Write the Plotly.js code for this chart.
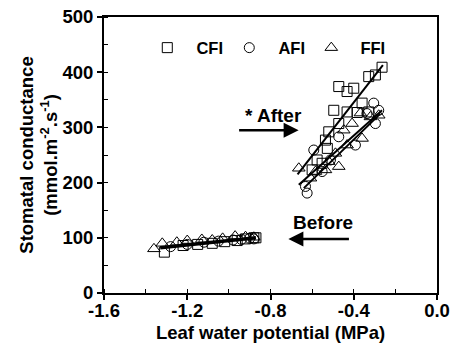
<!DOCTYPE html>
<html>
<head>
<meta charset="utf-8">
<script src="https://cdn.plot.ly/plotly-3.0.1.min.js"></script>
<style>html,body{margin:0;padding:0;background:#fff;}#chart{width:450px;height:349px;}</style>
</head>
<body>
<div id="chart"></div>
<script>
// Before irrigation (leaf water potential MPa, stomatal conductance)
const cfiBeforeX = [-1.31, -1.22, -1.15, -1.08, -1.02, -0.96, -0.92, -0.88, -0.87];
const cfiBeforeY = [74, 86, 88, 90, 93, 95, 98, 100, 100];
const afiBeforeX = [-1.28, -1.20, -1.12, -1.05, -0.98, -0.94, -0.90, -0.88];
const afiBeforeY = [84, 88, 92, 94, 96, 97, 99, 98];
const ffiBeforeX = [-1.36, -1.32, -1.25, -1.20, -1.13, -1.08, -1.03, -0.97, -0.92, -0.88];
const ffiBeforeY = [80, 90, 92, 95, 97, 96, 99, 103, 102, 101];

// After irrigation
const cfiAfterX = [-0.264, -0.296, -0.328, -0.472, -0.432, -0.40, -0.496, -0.432, -0.383, -0.36, -0.472, -0.52, -0.536, -0.527, -0.576, -0.60, -0.552, -0.328];
const cfiAfterY = [409, 395, 392, 374, 365, 371, 331, 328, 327, 344, 307, 292, 277, 262, 241, 223, 235, 328];
const afiAfterX = [-0.304, -0.28, -0.296, -0.336, -0.472, -0.392, -0.592, -0.512, -0.552, -0.632, -0.624];
const afiAfterY = [344, 331, 307, 325, 283, 268, 259, 241, 220, 193, 181];
const ffiAfterX = [-0.28, -0.32, -0.368, -0.408, -0.448, -0.36, -0.432, -0.488, -0.472, -0.536, -0.584, -0.664, -0.608, -0.52];
const ffiAfterY = [322, 319, 326, 307, 295, 280, 268, 253, 229, 223, 220, 226, 208, 238];

// Regression line end points
const fitBeforeX = [-1.33, -0.87];
const fitBeforeY = [82, 100];
const fitCfiAfterX = [-0.67, -0.26];
const fitCfiAfterY = [215, 413];
const fitAfiAfterX = [-0.64, -0.272];
const fitAfiAfterY = [190, 325];
const fitFfiAfterX = [-0.664, -0.264];
const fitFfiAfterY = [196, 331];

const seriesNames = ['CFI', 'AFI', 'FFI'];
const xTicks = [-1.6, -1.2, -0.8, -0.4, 0.0];
const xTickText = ['-1.6', '-1.2', '-0.8', '-0.4', '0.0'];
const yTicks = [0, 100, 200, 300, 400, 500];

const FONT = 'Liberation Sans, Arial, Helvetica, sans-serif';
const FS = 18.5;

function pts(name, xs, ys, symbol, size) {
  return {
    type: 'scatter', mode: 'markers', name: '<b>\u00a0\u00a0' + name + '</b>',
    x: xs, y: ys,
    marker: {symbol: symbol, size: size, color: 'black', line: {color: 'black', width: 1}},
    showlegend: true, cliponaxis: false
  };
}
function fit(xs, ys, w) {
  return {type: 'scatter', mode: 'lines', x: xs, y: ys, line: {color: 'black', width: w}, showlegend: false, hoverinfo: 'skip'};
}

const data = [
  fit(fitBeforeX, fitBeforeY, 3.5),
  fit(fitCfiAfterX, fitCfiAfterY, 2),
  fit(fitAfiAfterX, fitAfiAfterY, 2),
  fit(fitFfiAfterX, fitFfiAfterY, 2),
  pts(seriesNames[0], cfiBeforeX.concat(cfiAfterX), cfiBeforeY.concat(cfiAfterY), 'square-open', 10),
  pts(seriesNames[1], afiBeforeX.concat(afiAfterX), afiBeforeY.concat(afiAfterY), 'circle-open', 10),
  pts(seriesNames[2], ffiBeforeX.concat(ffiAfterX), ffiBeforeY.concat(ffiAfterY), 'triangle-up-open', 11)
];

const layout = {
  width: 450, height: 349,
  margin: {l: 104, r: 13, t: 17, b: 56},
  paper_bgcolor: 'white', plot_bgcolor: 'white',
  font: {family: FONT, size: FS, color: 'black'},
  showlegend: true,
  legend: {
    orientation: 'h', x: 0.13, y: 0.888, xanchor: 'left', yanchor: 'middle',
    font: {family: FONT, size: 16.5, color: 'black'},
    bgcolor: 'rgba(0,0,0,0)', entrywidth: 37, entrywidthmode: 'pixels',
    itemclick: false
  },
  xaxis: {
    range: [-1.6, 0.0], tickvals: xTicks, ticktext: xTickText,
    showgrid: false, zeroline: false,
    showline: true, linecolor: 'black', linewidth: 2, mirror: true,
    ticks: 'outside', ticklen: 5, tickwidth: 2, tickcolor: 'black',
    ticklabelstandoff: -5,
    minor: {ticks: 'inside', ticklen: 4, tickwidth: 1, tickcolor: 'black', dtick: 0.2, tick0: -1.6, showgrid: false},
    tickfont: {family: FONT, size: FS, weight: 'bold'},
    title: {text: '<b>Leaf water potential (MPa)</b>', font: {family: FONT, size: FS}, standoff: 6}
  },
  yaxis: {
    range: [0, 500], tickvals: yTicks,
    showgrid: false, zeroline: false,
    showline: true, linecolor: 'black', linewidth: 2, mirror: true,
    ticks: 'outside', ticklen: 5, tickwidth: 2, tickcolor: 'black',
    minor: {ticks: 'inside', ticklen: 4, tickwidth: 1, tickcolor: 'black', dtick: 50, tick0: 0, showgrid: false},
    tickfont: {family: FONT, size: FS, weight: 'bold'},
    title: {text: '<b>Stomatal conductance<br>(mmol.m<sup>-2</sup>.s<sup>-1</sup>)</b>', font: {family: FONT, size: FS}, standoff: 0}
  },
  annotations: [
    {x: -0.785, y: 322, xref: 'x', yref: 'y', text: '<b>* After</b>', showarrow: false, font: {family: FONT, size: 19}},
    {x: -0.665, y: 295, ax: -0.958, ay: 295, axref: 'x', ayref: 'y', xref: 'x', yref: 'y', text: '', showarrow: true, arrowhead: 2, arrowsize: 1.2, arrowwidth: 2.5, arrowcolor: 'black'},
    {x: -0.55, y: 128, xref: 'x', yref: 'y', text: '<b>Before</b>', showarrow: false, font: {family: FONT, size: 19}},
    {x: -0.714, y: 98, ax: -0.416, ay: 98, axref: 'x', ayref: 'y', xref: 'x', yref: 'y', text: '', showarrow: true, arrowhead: 2, arrowsize: 1.2, arrowwidth: 2.5, arrowcolor: 'black'}
  ]
};

Plotly.newPlot('chart', data, layout, {staticPlot: true, displayModeBar: false});
</script>
</body>
</html>
